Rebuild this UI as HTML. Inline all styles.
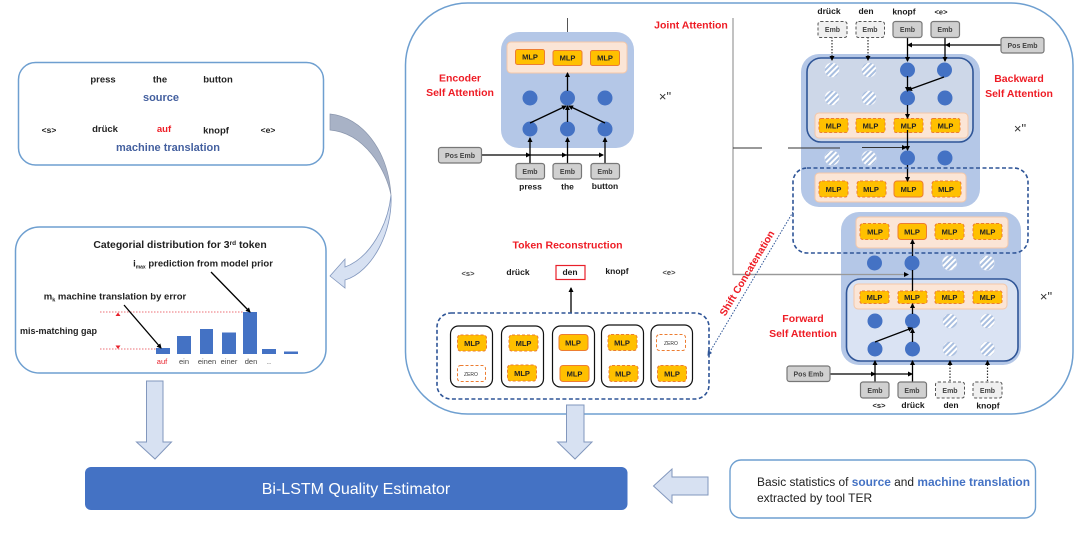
<!DOCTYPE html>
<html><head><meta charset="utf-8"><style>
html,body{margin:0;padding:0;background:#fff;width:1080px;height:540px;overflow:hidden}
svg{display:block;font-family:"Liberation Sans",sans-serif;filter:blur(.3px)}
text{text-anchor:middle}
.w{font-size:8.5px;font-weight:bold;fill:#1a1a1a}
.s{font-size:7.5px;fill:#444}
.r{font-size:10.5px;font-weight:bold;fill:#ee1c25}
.b{font-size:11px;font-weight:bold;fill:#44609f}
.m{font-size:7.5px;font-weight:bold;fill:#222}
.e{font-size:7px;font-weight:bold;fill:#444}
.l{font-size:9.5px;font-weight:bold;fill:#222}
.mlp{fill:#ffc000;stroke:#ed7d31;stroke-width:1}
.d{stroke-dasharray:3 2}
.emb{fill:#d0d0d0;stroke:#777;stroke-width:1.2}
.ed{fill:#f0f0f0;stroke:#555;stroke-width:1;stroke-dasharray:3 2}
.dot{fill:#4472c4}
.st{fill:url(#hatch);stroke:#d5dded;stroke-width:.5}
.a{stroke:#000;stroke-width:1.3;fill:none;marker-end:url(#ah)}
.n{stroke:#000;stroke-width:1.3;fill:none}
.dl{stroke:#333;stroke-width:1.2;fill:none;stroke-dasharray:1.5 1.5;marker-end:url(#ah)}
.peach{fill:#fbe5d6;stroke:#f4c7a8;stroke-width:1}
.card{fill:#fff;stroke:#111;stroke-width:1.2}
.arrow{fill:#d7e1f2;stroke:#8297bd;stroke-width:1}
.rd{stroke:#e8404a;stroke-width:.8;stroke-dasharray:1.5 1.5;fill:none}
</style></head><body>
<svg width="1080" height="540" viewBox="0 0 1080 540" xmlns="http://www.w3.org/2000/svg">
<defs>
<pattern id="hatch" width="4" height="4" patternUnits="userSpaceOnUse" patternTransform="rotate(-45)"><rect width="4" height="4" fill="#fff"/><rect width="4" height="2" fill="#a9bfe0"/></pattern>
<marker id="ah" markerWidth="5" markerHeight="5" refX="4" refY="2.5" orient="auto" markerUnits="userSpaceOnUse"><path d="M0 0L5 2.5L0 5z" fill="#000"/></marker>
<marker id="ab" markerWidth="5" markerHeight="5" refX="4" refY="2.5" orient="auto" markerUnits="userSpaceOnUse"><path d="M0 0L5 2.5L0 5z" fill="#2f5597"/></marker>
</defs>

<!-- left box 1 -->
<rect x="18.5" y="62.5" width="305" height="102.5" rx="17" fill="#fff" stroke="#6e9fd0" stroke-width="1.5"/>
<text class="l" x="103" y="82.5">press</text><text class="l" x="160" y="82.5">the</text><text class="l" x="218" y="82.5">button</text>
<text class="b" x="161" y="101">source</text>
<text class="l" x="49" y="133" style="font-size:8.5px">&lt;s&gt;</text><text class="l" x="105" y="132">drück</text><text class="l" x="164" y="132" style="fill:#ee1c25">auf</text><text class="l" x="216" y="133.5">knopf</text><text class="l" x="268" y="133" style="font-size:8.5px">&lt;e&gt;</text>
<text class="b" x="168" y="151">machine translation</text>

<!-- curved arrow -->
<path d="M330 114C362 117 388 150 391 195C386 170 365 133 330 130Z" fill="#a8b2c6" stroke="#8a96ad" stroke-width=".7"/>
<path d="M391 195C393 232 372 272 345 280L345 288L330 276L345 259L345 267C370 258 388 225 391 195Z" fill="#d7e1f2" stroke="#8297bd" stroke-width=".8"/>

<!-- left box 2 -->
<rect x="15.5" y="227" width="310.5" height="146" rx="24" fill="#fff" stroke="#6e9fd0" stroke-width="1.5"/>
<text class="l" x="180" y="248" style="font-size:10.4px">Categorial distribution for 3<tspan dy="-3" style="font-size:6.5px">rd</tspan><tspan dy="3"> token</tspan></text>
<text class="l" x="203" y="266.5">i<tspan dy="2" style="font-size:5px">max</tspan><tspan dy="-2"> prediction from model prior</tspan></text>
<text class="l" x="115" y="299.5">m<tspan dy="2" style="font-size:5.5px">k</tspan><tspan dy="-2">  machine translation by error</tspan></text>
<text class="l" x="58.5" y="334" style="font-size:9px">mis-matching gap</text>
<path class="rd" d="M100 312H243M100 349H156"/>
<path d="M115.500 316L118 312.500L120.500 316ZM115.500 345.500L118 349L120.500 345.500Z" fill="#e8202a"/>
<g fill="#4472c4">
<rect x="156" y="348" width="14" height="6"/><rect x="177" y="336" width="14" height="18"/><rect x="200" y="329" width="13" height="25"/><rect x="222" y="332.500" width="14" height="21.500"/><rect x="243" y="312" width="14" height="42"/><rect x="262" y="349" width="14" height="5"/><rect x="284" y="351.500" width="14" height="2.500"/>
</g>
<g style="font-size:7.5px;fill:#444"><text x="162" y="364" style="fill:#e8202a">auf</text><text x="184" y="364">ein</text><text x="207" y="364">einen</text><text x="229" y="364">einer</text><text x="251" y="364">den</text><text x="269" y="364">..</text></g>
<path class="a" d="M124 305L161 348"/><path class="a" d="M211 272L250 312"/>

<!-- big frame -->
<rect x="405.500" y="3" width="667.500" height="411" rx="62" fill="#fff" stroke="#6e9fd0" stroke-width="1.5"/>

<!-- encoder -->
<path class="n" d="M567.500 18V32" style="stroke:#555;stroke-width:1"/>
<rect x="501" y="32" width="133" height="116" rx="18" fill="#b4c7e7"/>
<rect class="peach" x="507" y="42" width="120" height="31" rx="4"/>
<rect class="mlp" x="515.500" y="49.500" width="29" height="15" rx="2"/><text class="m" x="530" y="59.500">MLP</text>
<rect class="mlp" x="553" y="50.500" width="29" height="15" rx="2"/><text class="m" x="567.500" y="60.500">MLP</text>
<rect class="mlp" x="590.500" y="50.500" width="29" height="15" rx="2"/><text class="m" x="605" y="60.500">MLP</text>
<g class="dot"><circle cx="530" cy="98" r="7.500"/><circle cx="567.500" cy="98" r="7.500"/><circle cx="605" cy="98" r="7.500"/><circle cx="530" cy="129" r="7.500"/><circle cx="567.500" cy="129" r="7.500"/><circle cx="605" cy="129" r="7.500"/></g>
<path class="a" d="M567.500 91V73"/><path class="a" d="M530 123L566 106"/><path class="a" d="M605 123L569 106"/><path class="a" d="M567.500 122V106"/>
<path class="a" d="M530 163V138"/><path class="a" d="M567.500 163V138"/><path class="a" d="M605 163V138"/>
<path class="a" d="M481 155H530"/><path class="a" d="M530 155H566"/><path class="a" d="M566 155H603"/>
<rect class="emb" x="438.500" y="147.500" width="43" height="15.500" rx="2.500"/><text class="e" x="460" y="158">Pos Emb</text>
<rect class="emb" x="516" y="163.500" width="28.500" height="15.500" rx="2.500"/><text class="e" x="530" y="174">Emb</text>
<rect class="emb" x="553" y="163.500" width="28.500" height="15.500" rx="2.500"/><text class="e" x="567.500" y="174">Emb</text>
<rect class="emb" x="591" y="163.500" width="28.500" height="15.500" rx="2.500"/><text class="e" x="605" y="174">Emb</text>
<text class="w" x="530.500" y="189.500">press</text><text class="w" x="567.500" y="189.500">the</text><text class="w" x="605" y="189">button</text>
<text class="r" x="460" y="81.500">Encoder</text><text class="r" x="460" y="96">Self Attention</text>
<text x="665" y="101" style="font-size:13px;fill:#333">×"</text>
<text class="r" x="691" y="28.500">Joint Attention</text>

<!-- reconstruction -->
<text class="r" x="567.500" y="248.500">Token Reconstruction</text>
<text class="s" x="468" y="276" style="font-weight:bold">&lt;s&gt;</text><text class="w" x="518" y="275">drück</text><text class="w" x="570" y="275">den</text><text class="w" x="617" y="274">knopf</text><text class="s" x="669" y="275" style="font-weight:bold">&lt;e&gt;</text>
<rect x="556" y="265.500" width="29" height="14" fill="none" stroke="#e8202a" stroke-width="1.200"/>
<path class="a" d="M571 313V288"/>
<rect x="437" y="313" width="272" height="86" rx="14" fill="#fff" stroke="#2f5597" stroke-width="1.600" stroke-dasharray="4 2.500"/>
<rect class="card" x="450.500" y="326" width="42" height="61" rx="8"/><rect class="card" x="501.500" y="326" width="42" height="61" rx="8"/><rect class="card" x="552.500" y="326" width="42" height="61" rx="8"/><rect class="card" x="601.500" y="325" width="42" height="62" rx="8"/><rect class="card" x="651" y="325" width="41.500" height="62" rx="8"/>
<rect class="mlp d" x="457.500" y="335" width="29" height="16" rx="3"/><text class="m" x="472" y="346">MLP</text>
<rect x="457.500" y="365.500" width="28" height="16" rx="3" fill="#fff" stroke="#ed7d31" stroke-dasharray="3 2"/><text x="471" y="376" style="font-size:5px;fill:#333">ZERO</text>
<rect class="mlp d" x="509" y="335" width="29" height="16" rx="3"/><text class="m" x="523.500" y="346">MLP</text>
<rect class="mlp d" x="507.500" y="365" width="29" height="16" rx="3"/><text class="m" x="522" y="376">MLP</text>
<rect class="mlp" x="559" y="334.500" width="29" height="16" rx="3"/><text class="m" x="573" y="345.500">MLP</text>
<rect class="mlp" x="560" y="365.500" width="29" height="16" rx="3"/><text class="m" x="574.500" y="376.500">MLP</text>
<rect class="mlp d" x="608" y="334.500" width="29" height="16" rx="3"/><text class="m" x="622" y="345.500">MLP</text>
<rect class="mlp d" x="609" y="365.500" width="29" height="16" rx="3"/><text class="m" x="623" y="376.500">MLP</text>
<rect x="656.500" y="334.500" width="29" height="16" rx="3" fill="#fff" stroke="#ed7d31" stroke-dasharray="3 2"/><text x="671" y="345" style="font-size:5px;fill:#333">ZERO</text>
<rect class="mlp d" x="657.500" y="365.500" width="29" height="16" rx="3"/><text class="m" x="672" y="376.500">MLP</text>

<!-- joint lines -->
<path d="M733 18V274.500H908" fill="none" stroke="#999" stroke-width="1.200"/>
<path d="M733 148H762M788 148H840" fill="none" stroke="#333" stroke-width=".9"/>

<!-- backward panel -->
<rect x="801" y="54" width="179" height="153" rx="18" fill="#b4c7e7"/>
<path d="M862 147.500H906" stroke="#333" stroke-width=".9" marker-end="url(#ah)"/>
<path d="M788 148H840" stroke="#333" stroke-width=".9"/>
<rect x="807" y="58" width="166" height="84" rx="14" fill="#cdd7e8" stroke="#2f5597" stroke-width="1.600"/>
<rect class="peach" x="815" y="113" width="153" height="25" rx="4"/>
<g>
<rect class="mlp d" x="819" y="118.500" width="29" height="14" rx="2"/><text class="m" x="833.500" y="128.500">MLP</text>
<rect class="mlp d" x="856" y="118.500" width="29" height="14" rx="2"/><text class="m" x="870.500" y="128.500">MLP</text>
<rect class="mlp d" x="894" y="118.500" width="29" height="14" rx="2"/><text class="m" x="908.500" y="128.500">MLP</text>
<rect class="mlp d" x="931" y="118.500" width="29" height="14" rx="2"/><text class="m" x="945.500" y="128.500">MLP</text>
</g>
<circle class="st" cx="832" cy="70" r="7.500"/><circle class="st" cx="869" cy="70" r="7.500"/><circle class="dot" cx="907.500" cy="70" r="7.500"/><circle class="dot" cx="944.500" cy="70" r="7.500"/>
<circle class="st" cx="832" cy="98" r="7.500"/><circle class="st" cx="869" cy="98" r="7.500"/><circle class="dot" cx="907.500" cy="98" r="7.500"/><circle class="dot" cx="945" cy="98" r="7.500"/>
<circle class="st" cx="832" cy="158" r="7.500"/><circle class="st" cx="869" cy="158" r="7.500"/><circle class="dot" cx="907.500" cy="158" r="7.500"/><circle class="dot" cx="945" cy="158" r="7.500"/>
<rect class="peach" x="815" y="173" width="151" height="29" rx="4"/>
<rect class="mlp d" x="819" y="181" width="29" height="16" rx="3"/><text class="m" x="833.500" y="192">MLP</text>
<rect class="mlp d" x="857" y="181" width="29" height="16" rx="3"/><text class="m" x="871" y="192">MLP</text>
<rect class="mlp" x="894" y="181" width="29" height="16" rx="3"/><text class="m" x="908.500" y="192">MLP</text>
<rect class="mlp d" x="932" y="181" width="29" height="16" rx="3"/><text class="m" x="946" y="192">MLP</text>
<path class="dl" d="M832 37V60"/><path class="dl" d="M868 37V60"/><path class="a" d="M907.500 37V61"/><path class="a" d="M945 37V61"/>
<path class="a" d="M1001 45H946"/><path class="a" d="M946 45H908"/>
<path class="a" d="M907.500 76V91"/><path class="a" d="M944 77L908 90"/><path class="a" d="M907.500 105V118"/><path class="a" d="M907.500 130V150"/><path class="a" d="M907.500 165V181"/>
<rect class="ed" x="818" y="21.500" width="29" height="16" rx="2.500"/><text class="e" x="832.500" y="32">Emb</text>
<rect class="ed" x="856" y="21.500" width="28.500" height="16" rx="2.500"/><text class="e" x="870" y="32">Emb</text>
<rect class="emb" x="893" y="21.500" width="29" height="16" rx="2.500"/><text class="e" x="907.500" y="32">Emb</text>
<rect class="emb" x="931" y="21.500" width="28.500" height="16" rx="2.500"/><text class="e" x="945" y="32">Emb</text>
<rect class="emb" x="1001" y="37.500" width="43" height="15.500" rx="2.500"/><text class="e" x="1022.500" y="48">Pos Emb</text>
<text class="w" x="829" y="14">drück</text><text class="w" x="866" y="14">den</text><text class="w" x="904" y="14.500">knopf</text><text class="w" x="941" y="14.500" style="font-size:7.5px">&lt;e&gt;</text>
<text class="r" x="1019" y="82">Backward</text><text class="r" x="1019" y="97">Self Attention</text>
<text x="1020" y="133" style="font-size:13px;fill:#333">×"</text>

<!-- forward panel -->
<rect x="841" y="212" width="180" height="153" rx="18" fill="#b4c7e7"/>
<rect class="peach" x="856" y="217" width="152" height="31" rx="4"/>
<rect class="mlp d" x="860" y="223.500" width="29" height="16" rx="3"/><text class="m" x="875" y="234.500">MLP</text>
<rect class="mlp" x="898" y="223.500" width="28.500" height="16" rx="3"/><text class="m" x="912" y="234.500">MLP</text>
<rect class="mlp d" x="935" y="223.500" width="29" height="16" rx="3"/><text class="m" x="949.500" y="234.500">MLP</text>
<rect class="mlp d" x="973" y="223.500" width="29" height="16" rx="3"/><text class="m" x="987.500" y="234.500">MLP</text>
<circle class="dot" cx="874.500" cy="263" r="7.500"/><circle class="dot" cx="912" cy="263" r="7.500"/><circle class="st" cx="949.500" cy="263" r="7.500"/><circle class="st" cx="987" cy="263" r="7.500"/>
<path d="M733 274.500H908" stroke="#999" stroke-width="1.200" marker-end="url(#ah)"/>
<rect x="846.500" y="279" width="171.500" height="82" rx="14" fill="#dae3f3" stroke="#2f5597" stroke-width="1.600"/>
<rect class="peach" x="854" y="284" width="153" height="25" rx="4"/>
<rect class="mlp d" x="860" y="291" width="29" height="12.500" rx="2"/><text class="m" x="874.500" y="300">MLP</text>
<rect class="mlp d" x="898" y="291" width="29" height="12.500" rx="2"/><text class="m" x="912" y="300">MLP</text>
<rect class="mlp d" x="935" y="291" width="29" height="12.500" rx="2"/><text class="m" x="949.500" y="300">MLP</text>
<rect class="mlp d" x="973" y="291" width="29" height="12.500" rx="2"/><text class="m" x="987.500" y="300">MLP</text>
<circle class="dot" cx="875" cy="321" r="7.500"/><circle class="dot" cx="912.500" cy="321" r="7.500"/><circle class="st" cx="950" cy="321" r="7.500"/><circle class="st" cx="987.500" cy="321" r="7.500"/>
<circle class="dot" cx="875" cy="349" r="7.500"/><circle class="dot" cx="912.500" cy="349" r="7.500"/><circle class="st" cx="950" cy="349" r="7.500"/><circle class="st" cx="987.500" cy="349" r="7.500"/>
<path class="a" d="M875 342L912 328"/><path class="a" d="M912.500 342V329"/><path class="a" d="M912.500 314V304"/><path class="n" d="M912.500 291V270"/><path class="a" d="M912.500 256V240"/>
<path class="a" d="M875 382V361"/><path class="a" d="M912.500 382V361"/><path class="dl" d="M950 381V361"/><path class="dl" d="M987.500 381V361"/>
<path class="a" d="M830 374H875"/><path class="a" d="M875 374H912"/>
<rect class="emb" x="787" y="366" width="43" height="15.500" rx="2.500"/><text class="e" x="808.500" y="376.500">Pos Emb</text>
<rect class="emb" x="860.500" y="382" width="28.500" height="16" rx="2.500"/><text class="e" x="875" y="393">Emb</text>
<rect class="emb" x="898" y="382" width="28.500" height="16" rx="2.500"/><text class="e" x="912" y="393">Emb</text>
<rect class="ed" x="935.500" y="382" width="29" height="16" rx="2.500"/><text class="e" x="950" y="393">Emb</text>
<rect class="ed" x="973" y="382" width="29" height="16" rx="2.500"/><text class="e" x="987.500" y="393">Emb</text>
<text class="w" x="879" y="408" style="font-size:7.5px">&lt;s&gt;</text><text class="w" x="913" y="408">drück</text><text class="w" x="951" y="408">den</text><text class="w" x="988" y="408.500">knopf</text>
<text class="r" x="803" y="322">Forward</text><text class="r" x="803" y="337">Self Attention</text>
<text x="1046" y="301" style="font-size:13px;fill:#333">×"</text>

<!-- dashed concat box -->
<rect x="793" y="168" width="235" height="85" rx="14" fill="none" stroke="#2f5597" stroke-width="1.600" stroke-dasharray="4 2.500"/>
<path d="M793 212L708 355" fill="none" stroke="#2f5597" stroke-width="1" stroke-dasharray="1.500 1.500" marker-end="url(#ab)"/>
<text class="r" transform="translate(750,275) rotate(-59.300)" x="0" y="0" style="font-size:10.300px">Shift Concatenation</text>

<!-- block arrows -->
<path class="arrow" d="M146.500 381H163V442H171.500L155 459L136.500 442H146.500Z"/>
<path class="arrow" d="M566.500 405H584V442H592L575 459L557.500 442H566.500Z"/>
<path class="arrow" d="M708 477H672V469L653.500 486L672 503V495H708Z"/>

<!-- estimator -->
<rect x="85" y="467" width="542.500" height="43" rx="6" fill="#4472c4"/>
<text x="356" y="494" style="font-size:16px;fill:#fff">Bi-LSTM Quality Estimator</text>

<!-- info -->
<rect x="730" y="460" width="305.500" height="58" rx="11" fill="#fff" stroke="#6e9fd0" stroke-width="1.400"/>
<text x="757" y="486" style="text-anchor:start;font-size:11.500px;fill:#222" textLength="273" lengthAdjust="spacingAndGlyphs">Basic statistics  of <tspan style="fill:#4472c4;font-weight:bold">source</tspan> and <tspan style="fill:#4472c4;font-weight:bold">machine translation</tspan></text>
<text x="757" y="502" style="text-anchor:start;font-size:12px;fill:#222">extracted by tool TER</text>
</svg>
</body></html>
